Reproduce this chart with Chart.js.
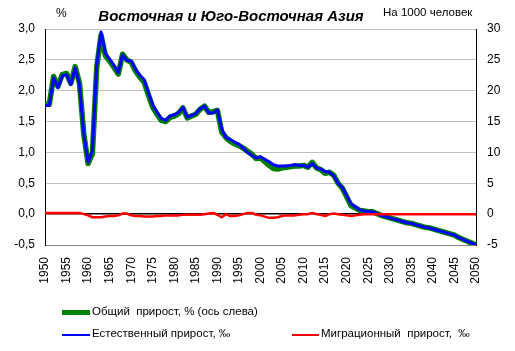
<!DOCTYPE html>
<html>
<head>
<meta charset="utf-8">
<script src="https://cdn.jsdelivr.net/npm/chart.js@4"></script>
<style>
  body { margin:0; background:#fff; font-family:"Liberation Sans", Arial, sans-serif; }
  #wrap { position:relative; width:515px; height:351px; }
  .lbl { position:absolute; white-space:pre; color:#000; }
  .sw { position:absolute; }
</style>
</head>
<body>
<div id="wrap">
  <canvas id="c" width="515" height="351"></canvas>
  <div class="lbl" style="left:56px;top:6px;font-size:12px;">%</div>
  <div class="lbl" style="left:0;width:462px;top:7px;text-align:center;font-size:15px;font-weight:bold;font-style:italic;">Восточная и Юго-Восточная Азия</div>
  <div class="lbl" style="left:383px;top:6px;font-size:11.5px;">На 1000 человек</div>

  <div class="sw" style="left:62px;top:310px;width:28px;height:5px;background:#008000;"></div>
  <div class="lbl" style="left:92px;top:305px;font-size:11.5px;">Общий  прирост, % (ось слева)</div>
  <div class="sw" style="left:62px;top:334px;width:28px;height:2px;background:#0000ff;"></div>
  <div class="lbl" style="left:92px;top:327px;font-size:11.5px;">Естественный прирост, ‰</div>
  <div class="sw" style="left:292px;top:334px;width:27px;height:2px;background:#ff0000;"></div>
  <div class="lbl" style="left:321px;top:327px;font-size:11.5px;">Миграционный  прирост,  ‰</div>
</div>
<script>
const years = []
for (let y = 1950; y <= 2050; y++) years.push(y)

// общий прирост, % (левая ось)
const totalGrowth = [
  1.78, 1.78, 2.23, 2.07, 2.26, 2.28, 2.12, 2.39, 2.12, 1.30,
  0.82, 0.98, 2.38, 2.90, 2.57, 2.48, 2.38, 2.27, 2.59, 2.50,
  2.46, 2.32, 2.22, 2.14, 1.93, 1.73, 1.62, 1.52, 1.50, 1.57,
  1.59, 1.63, 1.72, 1.56, 1.59, 1.62, 1.70, 1.75, 1.65, 1.66,
  1.68, 1.33, 1.24, 1.18, 1.14, 1.11, 1.07, 1.02, 0.97, 0.90,
  0.91, 0.85, 0.79, 0.74, 0.73, 0.75, 0.76, 0.77, 0.78, 0.78,
  0.79, 0.76, 0.84, 0.75, 0.72, 0.66, 0.68, 0.63, 0.50, 0.42,
  0.28, 0.14, 0.10, 0.06, 0.05, 0.04, 0.04, 0.01, -0.02, -0.04,
  -0.06, -0.08, -0.10, -0.12, -0.14, -0.15, -0.17, -0.19, -0.21, -0.22,
  -0.24, -0.26, -0.28, -0.30, -0.32, -0.34, -0.38, -0.41, -0.44, -0.47,
  -0.50
]

// естественный прирост, ‰ (правая ось)
const naturalGrowth = [
  17.6, 17.6, 22.1, 20.5, 22.4, 22.6, 21.0, 23.7, 21.0, 13.0,
  8.4, 10.3, 24.3, 29.5, 26.1, 25.1, 24.1, 22.9, 25.8, 24.9,
  24.8, 23.5, 22.5, 21.8, 19.7, 17.7, 16.5, 15.5, 15.2, 15.9,
  16.1, 16.5, 17.3, 15.7, 16.0, 16.3, 17.1, 17.5, 16.4, 16.4,
  16.9, 13.8, 12.4, 12.1, 11.7, 11.3, 10.7, 10.0, 9.5, 9.1,
  9.3, 8.9, 8.5, 8.0, 7.8, 7.8, 7.8, 7.9, 8.0, 7.9,
  7.9, 7.6, 8.2, 7.5, 7.3, 6.9, 6.8, 6.2, 5.0, 4.3,
  3.0, 1.7, 1.2, 0.7, 0.5, 0.4, 0.4, 0.1, -0.2, -0.4,
  -0.6, -0.8, -1.0, -1.2, -1.4, -1.5, -1.7, -1.9, -2.1, -2.2,
  -2.4, -2.6, -2.8, -3.0, -3.2, -3.4, -3.8, -4.1, -4.4, -4.7,
  -5.0
]

// миграционный прирост, ‰ (правая ось)
const migrationGrowth = [
  0.2, 0.2, 0.2, 0.2, 0.2, 0.2, 0.2, 0.2, 0.2, 0.0,
  -0.2, -0.5, -0.5, -0.5, -0.4, -0.3, -0.3, -0.2, 0.1, 0.1,
  -0.2, -0.3, -0.3, -0.4, -0.4, -0.4, -0.3, -0.3, -0.2, -0.2,
  -0.2, -0.2, -0.1, -0.1, -0.1, -0.1, -0.1, 0.0, 0.1, 0.2,
  -0.1, -0.5, 0.0, -0.3, -0.3, -0.2, 0.0, 0.2, 0.2, -0.1,
  -0.2, -0.4, -0.6, -0.6, -0.5, -0.3, -0.2, -0.2, -0.2, -0.1,
  0.0, 0.0, 0.2, 0.0, -0.1, -0.3, 0.0, 0.1, 0.0, -0.1,
  -0.2, -0.3, -0.2, -0.1, 0.0, 0.0, 0.0, 0.0, 0.0, 0.0,
  0.0, 0.0, 0.0, 0.0, 0.0, 0.0, 0.0, 0.0, 0.0, 0.0,
  0.0, 0.0, 0.0, 0.0, 0.0, 0.0, 0.0, 0.0, 0.0, 0.0,
  0.0
]

const fontFamily = '"Liberation Sans", Arial, sans-serif'
Chart.defaults.font.family = fontFamily
Chart.defaults.color = '#000'

const comma = v => v.toFixed(1).replace('.', ',')
const lineStyle = { pointRadius: 0, borderJoinStyle: 'round', borderCapStyle: 'butt' }

new Chart(document.getElementById('c'), {
  type: 'line',
  data: {
    labels: years,
    datasets: [
      { label: 'Миграционный прирост, ‰', data: migrationGrowth, yAxisID: 'y2', borderColor: '#ff0000', borderWidth: 2.5, order: 0, ...lineStyle },
      { label: 'Естественный прирост, ‰', data: naturalGrowth, yAxisID: 'y2', borderColor: '#0000ff', borderWidth: 3, order: 1, ...lineStyle },
      { label: 'Общий прирост, % (ось слева)', data: totalGrowth, yAxisID: 'y', borderColor: '#008000', borderWidth: 5.5, order: 2, ...lineStyle }
    ]
  },
  options: {
    responsive: false,
    animation: false,
    layout: { padding: { top: 29, left: 0, right: 0, bottom: 0 } },
    plugins: { legend: { display: false }, tooltip: { enabled: false } },
    scales: {
      x: {
        offset: false,
        grid: { display: false },
        border: { display: true, color: '#808080' },
        ticks: {
          autoSkip: false, minRotation: 90, maxRotation: 90, padding: 4,
          font: { size: 12 },
          callback: (v, i) => years[i] % 5 === 0 ? String(years[i]) : null
        },
        afterFit: s => { s.height = 106 }
      },
      y: {
        position: 'left', min: -0.5, max: 3.0,
        ticks: { stepSize: 0.5, padding: 10, font: { size: 12 }, callback: v => comma(v) },
        grid: { drawTicks: false, color: c => c.tick && c.tick.value === 0 ? '#000' : '#c0c0c0', lineWidth: c => c.tick && c.tick.value === 0 ? 1.5 : 1 },
        border: { display: true, color: '#000' },
        afterFit: s => { s.width = 45 }
      },
      y2: {
        position: 'right', min: -5, max: 30,
        ticks: { stepSize: 5, padding: 11, font: { size: 12 } },
        grid: { display: false, drawTicks: false },
        border: { display: true, color: '#000' },
        afterFit: s => { s.width = 39 }
      }
    }
  }
})
</script>
</body>
</html>
